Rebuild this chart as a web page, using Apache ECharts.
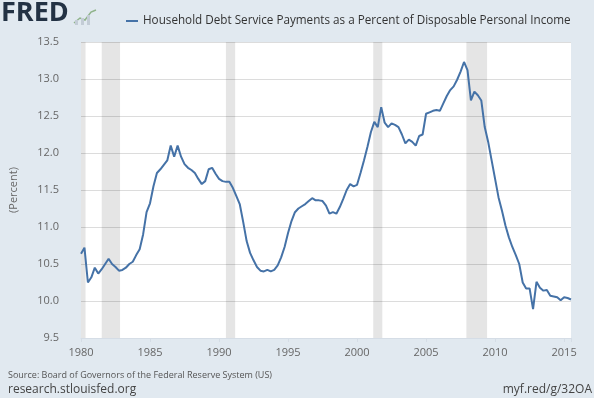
<!DOCTYPE html>
<html>
<head>
<meta charset="utf-8">
<script src="https://cdn.jsdelivr.net/npm/echarts@6/dist/echarts.min.js"></script>
<style>
html,body{margin:0;padding:0;background:#e1e9f0;}
#chart{width:594px;height:398px;}
</style>
</head>
<body>
<div id="chart"></div>
<script>
// Quarterly observations, 1980 Q1 .. 2015 Q3 (percent)
var startYear = 1980;
var seriesName = 'Household Debt Service Payments as a Percent of Disposable Personal Income';
var debtService = [
  10.64, 10.72, 10.25, 10.32,
  10.45, 10.37, 10.43, 10.50,
  10.57, 10.50, 10.46, 10.41,
  10.42, 10.45, 10.50, 10.53,
  10.62, 10.70, 10.90, 11.20,
  11.32, 11.55, 11.73, 11.78,
  11.84, 11.90, 12.10, 11.95,
  12.10, 11.95, 11.85, 11.80,
  11.77, 11.73, 11.65, 11.58,
  11.62, 11.78, 11.80, 11.72,
  11.65, 11.62, 11.61, 11.61,
  11.53, 11.42, 11.31, 11.07,
  10.81, 10.65, 10.55, 10.46,
  10.41, 10.40, 10.42, 10.40,
  10.42, 10.48, 10.59, 10.73,
  10.92, 11.08, 11.20, 11.25,
  11.28, 11.31, 11.35, 11.39,
  11.36, 11.36, 11.35, 11.29,
  11.18, 11.20, 11.18, 11.27,
  11.38, 11.50, 11.58, 11.55,
  11.57, 11.73, 11.90, 12.08,
  12.28, 12.42, 12.35, 12.62,
  12.41, 12.35, 12.40, 12.38,
  12.35, 12.25, 12.13, 12.18,
  12.15, 12.10, 12.23, 12.25,
  12.53, 12.55, 12.57, 12.58,
  12.57, 12.67, 12.77, 12.85,
  12.90, 12.99, 13.10, 13.23,
  13.12, 12.71, 12.83, 12.78,
  12.71, 12.35, 12.15, 11.90,
  11.65, 11.40, 11.22, 11.02,
  10.86, 10.73, 10.62, 10.50,
  10.25, 10.17, 10.17, 9.89,
  10.26, 10.18, 10.14, 10.15,
  10.07, 10.06, 10.05, 10.01,
  10.05, 10.04, 10.02
];
// Recession periods (decimal years: start, end)
var recessionStart = [1980.0, 1981.5, 1990.5, 2001.17, 2007.92];
var recessionEnd   = [1980.33, 1982.83, 1991.17, 2001.83, 2009.42];
var yTicks = [9.5, 10.0, 10.5, 11.0, 11.5, 12.0, 12.5, 13.0, 13.5];
var xTickYears = [1980, 1985, 1990, 1995, 2000, 2005, 2010, 2015];

var lineData = debtService.map(function (v, i) { return [startYear + i / 4, v]; });
var areas = recessionStart.map(function (s, i) { return [{ xAxis: s }, { xAxis: recessionEnd[i] }]; });

var chart = echarts.init(document.getElementById('chart'), null, { renderer: 'canvas' });
var font = '"Open Sans", "DejaVu Sans", sans-serif';
chart.setOption({
  backgroundColor: '#e1e9f0',
  animation: false,
  textStyle: { fontFamily: font },
  legend: {
    left: 121, top: 10,
    icon: 'rect', itemWidth: 12, itemHeight: 2, itemGap: 6,
    textStyle: { fontSize: 11.7, color: '#333', fontFamily: font },
    data: [seriesName]
  },
  grid: {
    left: 80, right: 23, top: 42, bottom: 60,
    show: true, backgroundColor: '#ffffff', borderWidth: 0
  },
  xAxis: {
    type: 'value', min: 1980, max: 2015.5, interval: 5,
    axisLine: { show: true, lineStyle: { color: '#d5dde6' } },
    axisTick: { show: true, length: 4, lineStyle: { color: '#d5dde6' } },
    splitLine: { show: false },
    axisLabel: {
      margin: 9, color: '#666', fontSize: 11, fontFamily: font,
      formatter: function (v) { return xTickYears.indexOf(v) >= 0 ? String(v) : ''; }
    }
  },
  yAxis: {
    type: 'value', min: yTicks[0], max: yTicks[yTicks.length - 1], interval: 0.5,
    name: '(Percent)', nameLocation: 'middle', nameGap: 62, nameRotate: 90,
    nameTextStyle: { color: '#666', fontSize: 11, fontFamily: font },
    axisLine: { show: false }, axisTick: { show: false },
    splitLine: { show: true, lineStyle: { color: '#dcdcdc', width: 1 } },
    axisLabel: {
      margin: 22, color: '#666', fontSize: 11, fontFamily: font,
      formatter: function (v) { return v.toFixed(1); }
    }
  },
  series: [{
    name: seriesName,
    type: 'line',
    data: lineData,
    showSymbol: false,
    symbol: 'none',
    lineStyle: { color: '#4572a7', width: 2 },
    itemStyle: { color: '#4572a7' },
    markArea: {
      silent: true,
      itemStyle: { color: 'rgba(0,0,0,0.10)' },
      data: areas
    }
  }],
  graphic: [
    { type: 'text', left: 1, top: 0, style: { text: 'FRED', font: 'bold 27px ' + font, fill: '#233244' } },
    { type: 'polyline', shape: { points: [[74, 23], [80, 18], [85, 20], [91, 12], [96, 10]] },
      style: { stroke: '#8fb38a', lineWidth: 1.5, fill: null } },
    { type: 'rect', shape: { x: 75, y: 20, width: 3, height: 5 }, style: { fill: '#c3ccd6' } },
    { type: 'rect', shape: { x: 81, y: 18, width: 3, height: 7 }, style: { fill: '#c3ccd6' } },
    { type: 'rect', shape: { x: 87, y: 15, width: 3, height: 10 }, style: { fill: '#c3ccd6' } },
    { type: 'text', left: 8, top: 371, style: { text: 'Source: Board of Governors of the Federal Reserve System (US)', font: '9px ' + font, fill: '#555' } },
    { type: 'text', left: 8, top: 384, style: { text: 'research.stlouisfed.org', font: '12px ' + font, fill: '#444' } },
    { type: 'text', right: 2, top: 384, style: { text: 'myf.red/g/32OA', font: '12px ' + font, fill: '#444' } }
  ]
});
</script>
</body>
</html>
